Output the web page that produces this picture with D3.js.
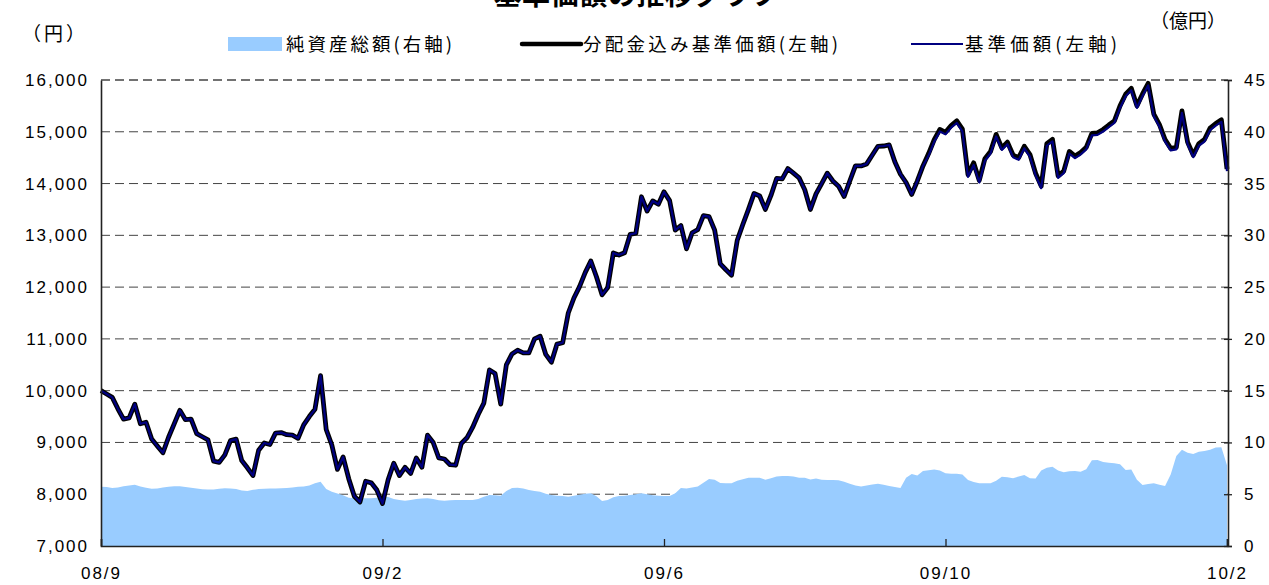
<!DOCTYPE html>
<html><head><meta charset="utf-8">
<script src="https://cdn.jsdelivr.net/npm/d3@7"></script>
<style>body{margin:0;background:#fff}</style>
</head><body>
<svg id="c" width="1269" height="585"></svg>
<script>
// ---- data ----
const xTickLabels = ["08/9","09/2","09/6","09/10","10/2"];
const xTickIndex = [0,50,100,150,200];
const leftTicks = [7000,8000,9000,10000,11000,12000,13000,14000,15000,16000];
const rightTicks = [0,5,10,15,20,25,30,35,40,45];

// 分配金込み基準価額 (yen)
const navWithDist = [10000,9935,9870,9650,9450,9475,9740,9360,9390,9065,
8930,8800,9100,9360,9620,9440,9450,9170,9110,9050,
8640,8615,8760,9035,9065,8650,8510,8360,8850,8990,
8960,9180,9190,9150,9140,9080,9340,9500,9640,10290,
9250,8950,8480,8720,8300,7960,7850,8250,8220,8080,
7820,8280,8600,8360,8520,8400,8700,8520,9140,9000,
8700,8680,8570,8560,8980,9090,9290,9540,9760,10400,
10330,9740,10500,10710,10780,10730,10730,11000,11050,10700,
10550,10900,10925,11500,11790,12010,12280,12505,12200,11850,
11990,12660,12620,12665,13020,13040,13745,13470,13665,13600,
13840,13670,13100,13190,12740,13050,13110,13380,13360,13100,
12450,12335,12230,12900,13210,13500,13810,13760,13500,13770,
14100,14090,14290,14200,14110,13880,13500,13800,14000,14200,
14050,13950,13750,14050,14340,14340,14380,14550,14720,14725,
14745,14420,14180,14020,13790,14050,14340,14580,14850,15045,
14990,15120,15210,15050,14170,14400,14060,14480,14620,14950,
14690,14800,14550,14500,14720,14560,14200,13950,14770,14855,
14150,14240,14620,14530,14600,14700,14970,14980,15045,15130,
15210,15500,15725,15840,15500,15730,15935,15340,15140,14850,
14680,14700,15405,14800,14550,14770,14850,15070,15160,15230,
14280];

// 基準価額 (yen)
const nav = [10000,9935,9870,9650,9450,9475,9740,9360,9390,9065,
8930,8800,9100,9360,9620,9440,9450,9170,9110,9050,
8640,8615,8760,9035,9065,8650,8510,8360,8850,8990,
8960,9180,9190,9150,9140,9080,9340,9500,9640,10290,
9250,8950,8480,8720,8300,7960,7850,8250,8220,8080,
7820,8280,8600,8360,8520,8400,8700,8520,9140,9000,
8700,8680,8570,8560,8980,9090,9290,9540,9760,10400,
10330,9740,10500,10710,10780,10730,10730,11000,11050,10700,
10550,10900,10925,11500,11790,12010,12280,12505,12200,11850,
11990,12660,12620,12665,13020,13040,13745,13470,13665,13600,
13840,13670,13100,13190,12740,13050,13110,13380,13360,13100,
12450,12335,12230,12900,13210,13500,13810,13760,13500,13770,
14100,14090,14290,14200,14110,13880,13500,13800,14000,14200,
14050,13950,13750,14050,14340,14340,14380,14550,14720,14725,
14745,14420,14180,14020,13790,14050,14340,14540,14810,15005,
14950,15080,15170,15010,14130,14360,14020,14440,14580,14910,
14650,14760,14510,14460,14680,14520,14160,13910,14730,14815,
14110,14200,14580,14490,14560,14660,14930,14940,15005,15090,
15170,15460,15685,15800,15460,15690,15895,15300,15100,14810,
14640,14660,15365,14760,14510,14730,14810,15030,15120,15190,
14240];

// 純資産総額 (億円)
const netAssets = [5.73,5.70,5.60,5.65,5.78,5.85,5.92,5.75,5.62,5.52,
5.55,5.65,5.72,5.78,5.76,5.70,5.62,5.55,5.48,5.45,
5.45,5.52,5.58,5.55,5.50,5.35,5.32,5.42,5.50,5.52,
5.55,5.56,5.57,5.60,5.65,5.72,5.75,5.85,6.05,6.20,
5.50,5.25,5.08,4.90,4.65,4.62,4.60,4.62,4.60,4.65,
4.75,4.72,4.55,4.45,4.38,4.45,4.55,4.58,4.60,4.55,
4.42,4.37,4.42,4.45,4.44,4.45,4.44,4.55,4.75,4.92,
4.90,4.86,5.30,5.60,5.63,5.55,5.40,5.30,5.25,5.05,
4.92,4.85,4.82,4.76,4.85,4.95,5.05,5.09,4.80,4.35,
4.45,4.70,4.83,4.85,4.92,5.00,5.09,5.00,4.90,4.86,
4.83,4.83,5.10,5.60,5.55,5.65,5.75,6.10,6.46,6.40,
6.08,6.05,6.05,6.30,6.45,6.60,6.60,6.60,6.40,6.55,
6.72,6.76,6.76,6.72,6.58,6.60,6.42,6.53,6.40,6.37,
6.37,6.35,6.20,6.02,5.85,5.75,5.85,5.95,6.02,5.92,
5.80,5.70,5.60,6.60,6.95,6.80,7.25,7.32,7.38,7.30,
7.02,6.98,6.98,6.90,6.37,6.18,6.05,6.05,6.05,6.30,
6.69,6.65,6.55,6.70,6.85,6.55,6.53,7.30,7.55,7.65,
7.30,7.12,7.22,7.25,7.18,7.40,8.28,8.30,8.12,8.05,
8.00,7.90,7.34,7.38,6.40,5.90,5.98,6.05,5.92,5.80,
6.90,8.70,9.30,9.00,8.88,9.10,9.17,9.30,9.50,9.53,
7.80];

// ---- chart ----
const svg = d3.select("#c");
const L = 101, R = 1228, T = 80, B = 546;
const x = d3.scaleLinear().domain([0, netAssets.length - 1]).range([L, 1227]);
const yL = d3.scaleLinear().domain([7000, 16000]).range([B, T]);
const yR = d3.scaleLinear().domain([0, 45]).range([B, T]);
const jp = "'Noto Sans CJK JP','Noto Sans',sans-serif";
const num = "'Liberation Sans',Arial,sans-serif";

// title (mostly cut off at top, as in the reference)
svg.append("text").attr("x", 636).attr("y", 5).attr("text-anchor", "middle")
  .attr("font-family", jp).attr("font-size", 28).attr("font-weight", "bold")
  .attr("textLength", 285).attr("lengthAdjust", "spacing")
  .text("基準価額の推移グラフ");

// gridlines
svg.append("g").selectAll("line").data(leftTicks.filter(d => d > 7000)).join("line")
  .attr("x1", L).attr("x2", R).attr("y1", d => yL(d)).attr("y2", d => yL(d))
  .attr("stroke", "#444").attr("stroke-width", d => d === 16000 ? 1.5 : 1)
  .attr("stroke-dasharray", "9,5");

// area: net assets
svg.append("path").datum(netAssets)
  .attr("fill", "#99CCFF")
  .attr("d", d3.area().x((d, i) => x(i)).y0(B).y1(d => yR(d)));

// lines
svg.append("path").datum(navWithDist)
  .attr("fill", "none").attr("stroke", "#000").attr("stroke-width", 4.8)
  .attr("stroke-linejoin", "round")
  .attr("d", d3.line().x((d, i) => x(i)).y(d => yL(d)));
svg.append("path").datum(nav)
  .attr("fill", "none").attr("stroke", "#000080").attr("stroke-width", 2.2)
  .attr("stroke-linejoin", "round")
  .attr("d", d3.line().x((d, i) => x(i)).y(d => yL(d)));

// axes
const axL = svg.append("g").attr("transform", `translate(${L},0)`)
  .call(d3.axisLeft(yL).tickValues(leftTicks).tickSize(0).tickPadding(14).tickFormat(d3.format(",")));
const axR = svg.append("g").attr("transform", `translate(${R},0)`)
  .call(d3.axisRight(yR).tickValues(rightTicks).tickSize(4).tickPadding(12));
const axB = svg.append("g").attr("transform", `translate(0,${B})`)
  .call(d3.axisBottom(x).tickValues(xTickIndex).tickSize(-7).tickPadding(24)
    .tickFormat((d, i) => xTickLabels[i]));
[axL, axR, axB].forEach(g => {
  g.select(".domain").attr("stroke", "#222").attr("stroke-width", 1.6);
  g.selectAll(".tick line").attr("stroke", "#222").attr("stroke-width", 1.3);
  g.selectAll("text").attr("font-family", num).attr("font-size", 17)
    .attr("fill", "#000").attr("letter-spacing", "2px");
});
axR.selectAll(".tick line").attr("x1", -4).attr("x2", 4);
axL.selectAll("text").attr("dx", "2px");
axB.selectAll("text").attr("dy", "0.55em");

// unit labels
svg.append("text").attr("x", 22).attr("y", 41).attr("font-family", jp).attr("font-size", 19)
  .attr("textLength", 63).attr("lengthAdjust", "spacing").text("（円）");
svg.append("text").attr("x", 1150).attr("y", 28).attr("font-family", jp).attr("font-size", 19)
  .attr("textLength", 76).attr("lengthAdjust", "spacing").text("（億円）");

// legend
const lg = svg.append("g").attr("font-family", jp).attr("font-size", 18.5);
lg.append("rect").attr("x", 228).attr("y", 37).attr("width", 54).attr("height", 14).attr("fill", "#99CCFF");
lg.append("text").attr("x", 286).attr("y", 51).attr("textLength", 166).attr("lengthAdjust", "spacing").text("純資産総額(右軸)");
lg.append("line").attr("x1", 522).attr("x2", 581).attr("y1", 44).attr("y2", 44)
  .attr("stroke", "#000").attr("stroke-width", 4.5).attr("stroke-linecap", "round");
lg.append("text").attr("x", 583).attr("y", 51).attr("textLength", 255).attr("lengthAdjust", "spacing").text("分配金込み基準価額(左軸)");
lg.append("line").attr("x1", 911).attr("x2", 963).attr("y1", 44).attr("y2", 44)
  .attr("stroke", "#000080").attr("stroke-width", 2);
lg.append("text").attr("x", 965).attr("y", 51).attr("textLength", 152).attr("lengthAdjust", "spacing").text("基準価額(左軸)");
</script>
</body></html>
